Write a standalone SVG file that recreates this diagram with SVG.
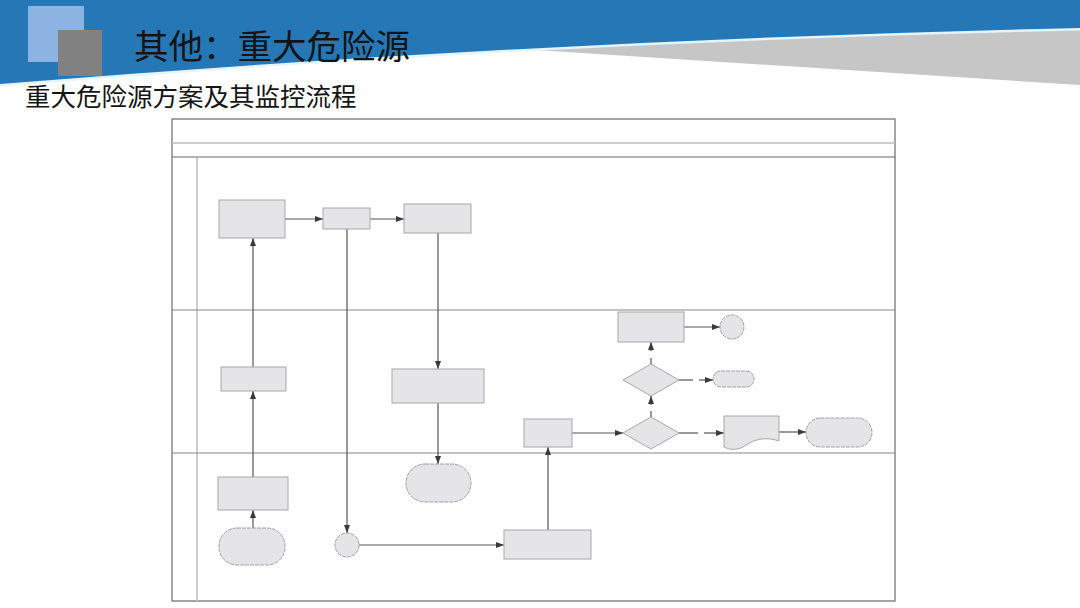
<svg xmlns="http://www.w3.org/2000/svg" width="1080" height="608" viewBox="0 0 1080 608">
<style>
.box{fill:#e5e4e6;stroke:#a8a8a8;stroke-width:1}
.soft{fill:#e5e4e6;stroke:#a0a0a0;stroke-width:1;stroke-dasharray:4 1}
.ln{fill:none;stroke:#555;stroke-width:1.2}
.frame{fill:none;stroke:#6a6a6a;stroke-width:1.2}
.lite{fill:none;stroke:#bdbdbd;stroke-width:1.5}
.cjk{font-family:"Noto Sans CJK SC","Noto Sans CJK JP",sans-serif;fill:#141414}
</style>
<defs>
<marker id="ah" markerWidth="8" markerHeight="6" refX="8" refY="3" orient="auto" markerUnits="userSpaceOnUse">
<path d="M0,0 L8,3 L0,6 Z" fill="#3a3a3a"/>
</marker>
</defs>
<rect width="1080" height="608" fill="#ffffff"/>
<g id="header">
<polygon points="520,49 1080,20 1080,85" fill="#c6c6c6"/>
<path d="M1080,28 Q540,40 0,84" fill="none" stroke="#e4f4fb" stroke-width="5"/>
<path d="M0,0 H1080 V28 Q540,40 0,84 Z" fill="#2577b6"/>
<rect x="28" y="6" width="56" height="56" fill="#8db3e2"/>
<rect x="58" y="30" width="44" height="46" fill="#818181"/>
<text x="134" y="59" class="cjk" font-size="34.5">其他：重大危险源</text>
</g>
<text x="25" y="106" class="cjk" font-size="25.5" fill="#1a1a1a">重大危险源方案及其监控流程</text>
<g id="frame">
<rect x="172" y="119" width="723" height="482" fill="#fdfcfe" class="frame"/>
<line x1="172" y1="143" x2="895" y2="143" class="lite"/>
<line x1="172" y1="157" x2="895" y2="157" class="frame"/>
<line x1="197" y1="157" x2="197" y2="601" class="lite"/>
<line x1="172" y1="310" x2="895" y2="310" stroke="#888" stroke-width="1.2"/>
<line x1="172" y1="453" x2="895" y2="453" stroke="#888" stroke-width="1.2"/>
</g>
<g id="connectors">
<line x1="285" y1="219" x2="323" y2="219" class="ln" marker-end="url(#ah)"/>
<line x1="370" y1="219" x2="404" y2="219" class="ln" marker-end="url(#ah)"/>
<line x1="253" y1="528" x2="253" y2="510" class="ln" marker-end="url(#ah)"/>
<line x1="253" y1="477" x2="253" y2="391" class="ln" marker-end="url(#ah)"/>
<line x1="253" y1="367" x2="253" y2="238" class="ln" marker-end="url(#ah)"/>
<line x1="347" y1="229" x2="347" y2="533" class="ln" marker-end="url(#ah)"/>
<line x1="438" y1="233" x2="438" y2="369" class="ln" marker-end="url(#ah)"/>
<line x1="438" y1="403" x2="438" y2="464" class="ln" marker-end="url(#ah)"/>
<line x1="359" y1="545" x2="504" y2="545" class="ln" marker-end="url(#ah)"/>
<line x1="548" y1="530" x2="548" y2="447" class="ln" marker-end="url(#ah)"/>
<line x1="572" y1="433" x2="623" y2="433" class="ln" marker-end="url(#ah)"/>
<line x1="651" y1="417" x2="651" y2="411" class="ln"/>
<line x1="651" y1="405" x2="651" y2="396" class="ln" marker-end="url(#ah)"/>
<line x1="651" y1="364" x2="651" y2="358" class="ln"/>
<line x1="651" y1="351" x2="651" y2="342" class="ln" marker-end="url(#ah)"/>
<line x1="679" y1="380" x2="693" y2="380" class="ln"/>
<line x1="699" y1="380" x2="713" y2="380" class="ln" marker-end="url(#ah)"/>
<line x1="679" y1="433" x2="698" y2="433" class="ln"/>
<line x1="704" y1="433" x2="724" y2="433" class="ln" marker-end="url(#ah)"/>
<line x1="684" y1="327" x2="720" y2="327" class="ln" marker-end="url(#ah)"/>
<line x1="779" y1="432" x2="806" y2="432" class="ln" marker-end="url(#ah)"/>
</g>
<g id="nodeA"><rect x="219" y="200" width="66" height="38" class="box"/></g>
<g id="nodeB"><rect x="323" y="208" width="47" height="21" class="box"/></g>
<g id="nodeC"><rect x="404" y="204" width="67" height="29" class="box"/></g>
<g id="nodeD"><rect x="221" y="367" width="65" height="24" class="box"/></g>
<g id="nodeE"><rect x="392" y="369" width="92" height="34" class="box"/></g>
<g id="nodeF"><rect x="618" y="312" width="66" height="30" class="box"/></g>
<g id="nodeG"><circle cx="732" cy="327" r="12" class="soft"/></g>
<g id="nodeH1"><polygon points="651,364 679,380 651,396 623,380" class="box"/></g>
<g id="nodeI"><rect x="713" y="371" width="41" height="16" rx="8" class="soft"/></g>
<g id="nodeJ"><rect x="524" y="419" width="48" height="28" class="box"/></g>
<g id="nodeH2"><polygon points="651,417 679,433 651,449 623,433" class="box"/></g>
<g id="nodeK"><path d="M724,416 H779 V441 C766,436 753,440 746,445 C738,451 730,450 724,447 Z" class="box"/></g>
<g id="nodeL"><rect x="806" y="418" width="66" height="29" rx="14.5" class="soft"/></g>
<g id="nodeM"><rect x="218" y="477" width="70" height="33" class="box"/></g>
<g id="nodeN"><rect x="219" y="528" width="66" height="37" rx="18" class="soft"/></g>
<g id="nodeO"><circle cx="347" cy="545" r="12" class="soft"/></g>
<g id="nodeP"><rect x="406" y="464" width="65" height="38" rx="19" class="soft"/></g>
<g id="nodeQ"><rect x="504" y="530" width="87" height="29" class="box"/></g>
</svg>
